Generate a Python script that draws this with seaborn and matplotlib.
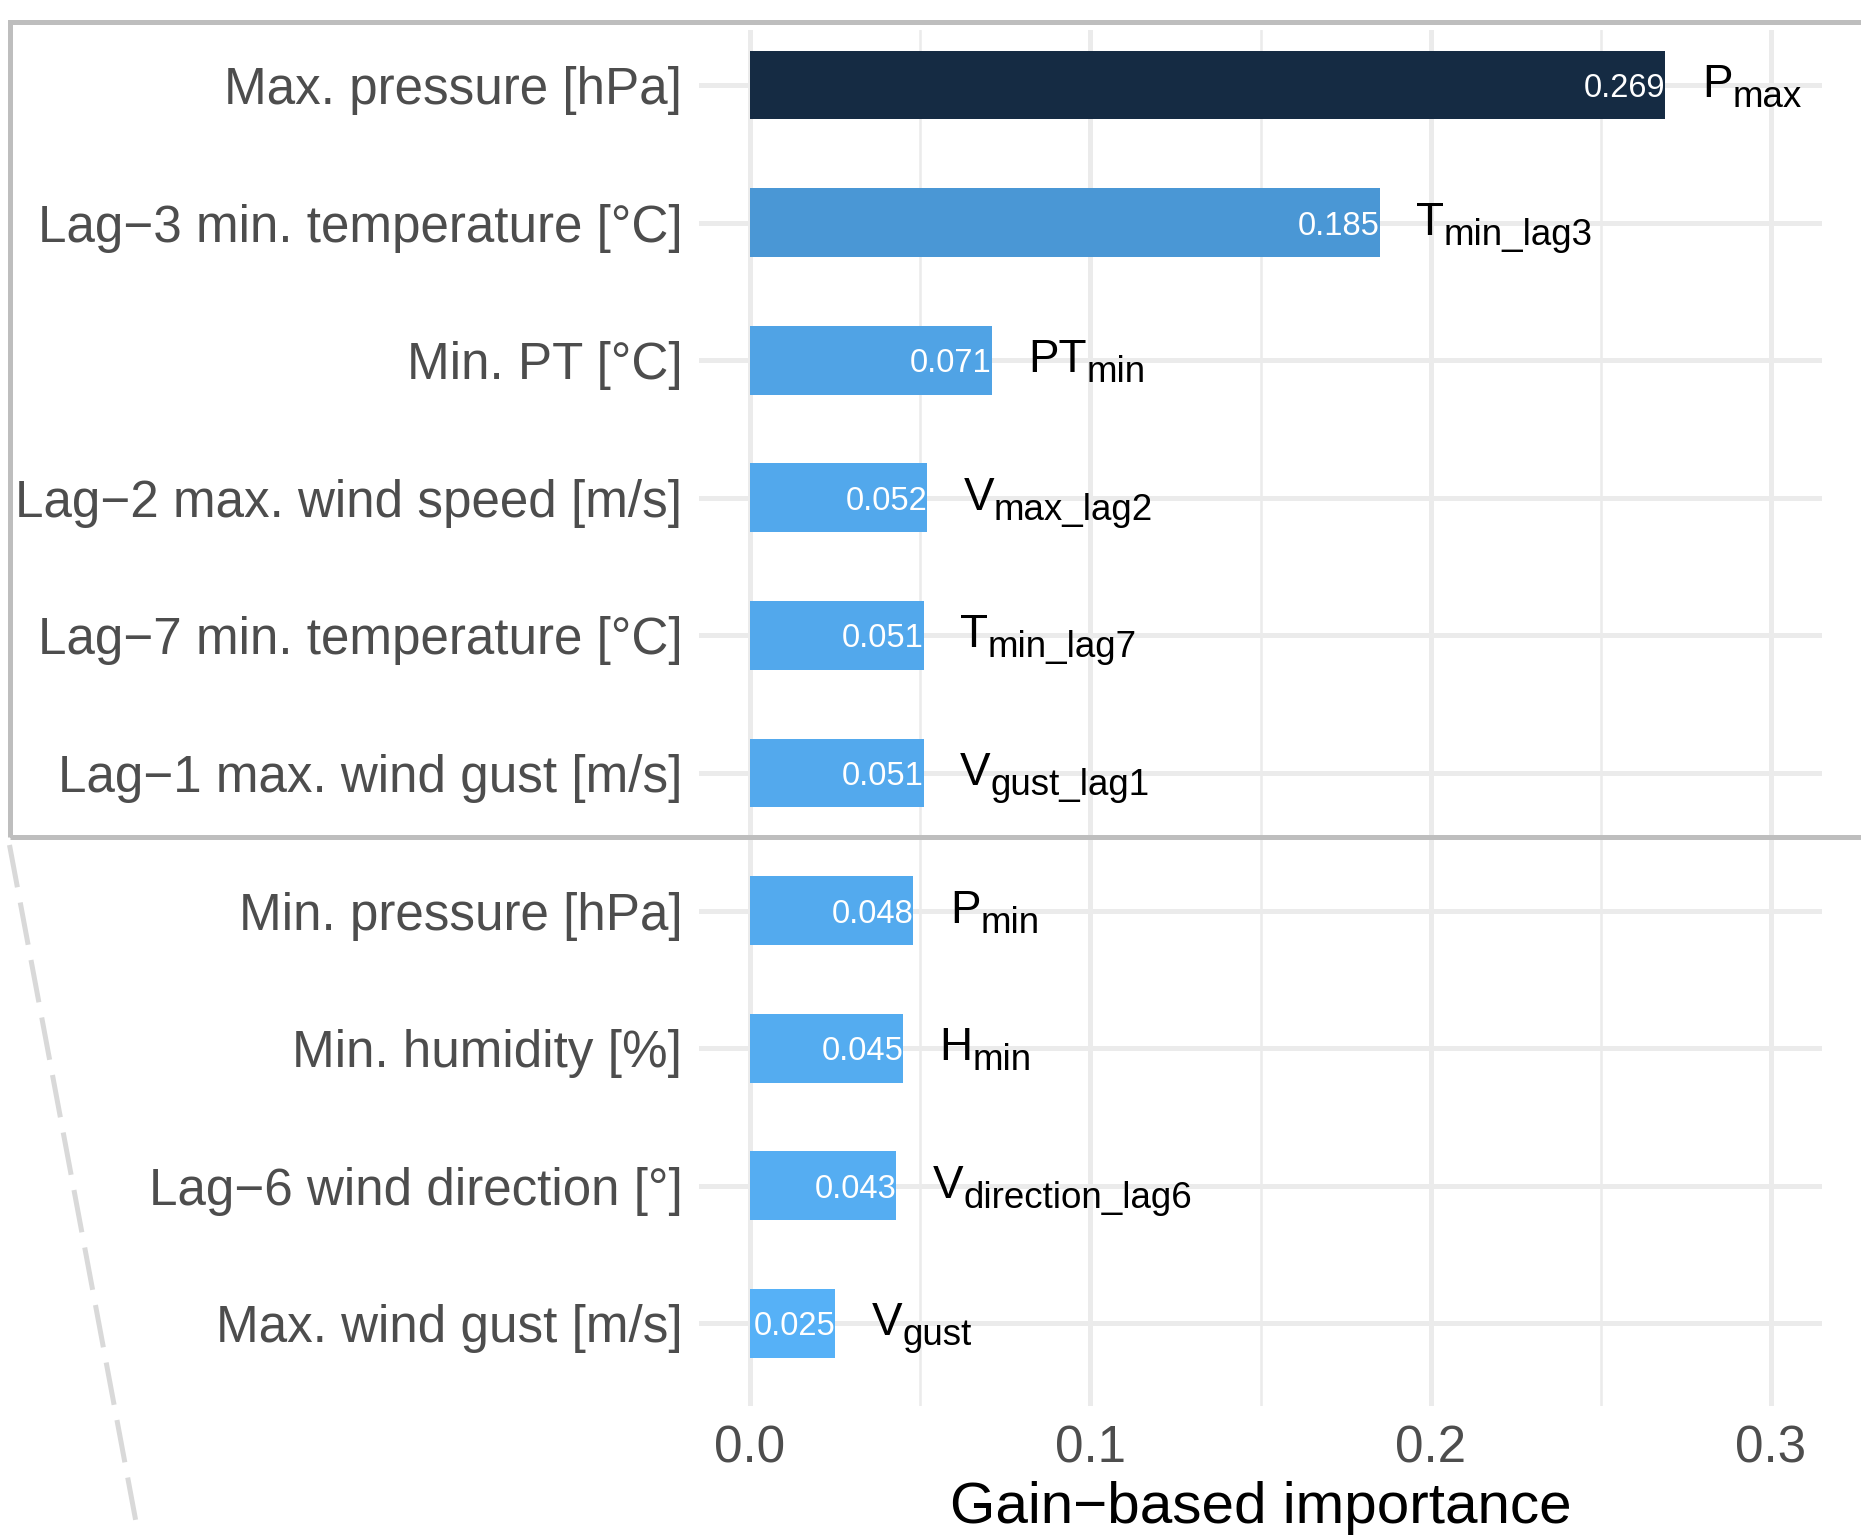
import numpy as np
import pandas as pd
import seaborn as sns
import matplotlib
matplotlib.use("Agg")
import matplotlib.pyplot as plt
from matplotlib.patches import Rectangle
from matplotlib.lines import Line2D

# Feature names (y axis), top to bottom
features = [
    "Max. pressure [hPa]",
    "Lag−3 min. temperature [°C]",
    "Min. PT [°C]",
    "Lag−2 max. wind speed [m/s]",
    "Lag−7 min. temperature [°C]",
    "Lag−1 max. wind gust [m/s]",
    "Min. pressure [hPa]",
    "Min. humidity [%]",
    "Lag−6 wind direction [°]",
    "Max. wind gust [m/s]",
]
# Gain-based importance of each feature
importance = [0.269, 0.185, 0.071, 0.052, 0.051, 0.051, 0.048, 0.045, 0.043, 0.025]
# Short variable symbols and their subscripts
symbols = ["P", "T", "PT", "V", "T", "V", "P", "H", "V", "V"]
subscripts = ["max", "min_lag3", "min", "max_lag2", "min_lag7",
              "gust_lag1", "min", "min", "direction_lag6", "gust"]
# Bar fills (dark navy to light blue gradient)
bar_colors = ["#152B43", "#4A97D5", "#50A3E5", "#52A8EC", "#52A8EC",
              "#53A9ED", "#53AAEE", "#54ACF0", "#55ADF2", "#56B1F7"]
x_ticks = [0.0, 0.1, 0.2, 0.3]
x_minor = [0.05, 0.15, 0.25]

W, H = 1861, 1535

sns.set_theme(style="white")
plt.rcParams["font.family"] = ["Liberation Sans", "DejaVu Sans"]

df = pd.DataFrame({"feature": features, "importance": importance})

fig = plt.figure(figsize=(W / 100, H / 100), dpi=100)
ax = fig.add_axes([699 / W, (H - 1406) / H, (1822 - 699) / W, (1406 - 30) / H])

sns.barplot(
    data=df, x="importance", y="feature", hue="feature",
    order=features, hue_order=features,
    palette=dict(zip(features, bar_colors)),
    width=0.5, saturation=1, linewidth=0, legend=False, ax=ax,
)

ax.set_xlim(-0.015, 0.315)
ax.set_ylim(len(features) - 0.4, -0.4)
ax.set_xticks(x_ticks)
ax.set_xticklabels([f"{t:.1f}" for t in x_ticks])
ax.set_xticks(x_minor, minor=True)
ax.set_axisbelow(True)
grid_col = "#EBEBEB"
ax.grid(axis="x", which="major", color=grid_col, lw=3.6)
ax.grid(axis="x", which="minor", color=grid_col, lw=1.8)
ax.grid(axis="y", which="major", color=grid_col, lw=3.6)
for s in ax.spines.values():
    s.set_visible(False)
ax.tick_params(axis="both", which="both", length=0)
ax.tick_params(axis="y", pad=12, labelsize=36.8, labelcolor="#4D4D4D")
ax.tick_params(axis="x", pad=13, labelsize=36.8, labelcolor="#4D4D4D")
ax.set_ylabel("")
ax.set_xlabel("Gain−based importance", fontsize=42, color="black", labelpad=6)

# Value labels inside the bars and symbol labels beside them
for i, (v, sym, sub) in enumerate(zip(importance, symbols, subscripts)):
    ax.text(v, i, f"{v:.3f}", ha="right", va="center_baseline",
            color="white", fontsize=23.5)
    main = ax.text(v + 0.0107, i, sym, ha="left", va="center",
                   color="black", fontsize=33)
    ax.annotate(sub, xy=(1, 0), xycoords=main, ha="left", va="baseline",
                color="black", fontsize=26.5)

# Highlight frame around the top six features and its connector line
fig.add_artist(Rectangle((10 / W, 1 - 837 / H), (1950 - 10) / W, (837 - 22) / H,
                         transform=fig.transFigure, fill=False,
                         edgecolor="#BEBEBE", lw=3.6))
fig.add_artist(Line2D([9.5 / W, 136 / W], [1 - 845 / H, 1 - 1522 / H],
                      transform=fig.transFigure, color="#D9D9D9", lw=3.6,
                      linestyle=(0, (8.6, 3.1)), dash_capstyle="butt"))

fig.savefig("out.png", dpi=100)
